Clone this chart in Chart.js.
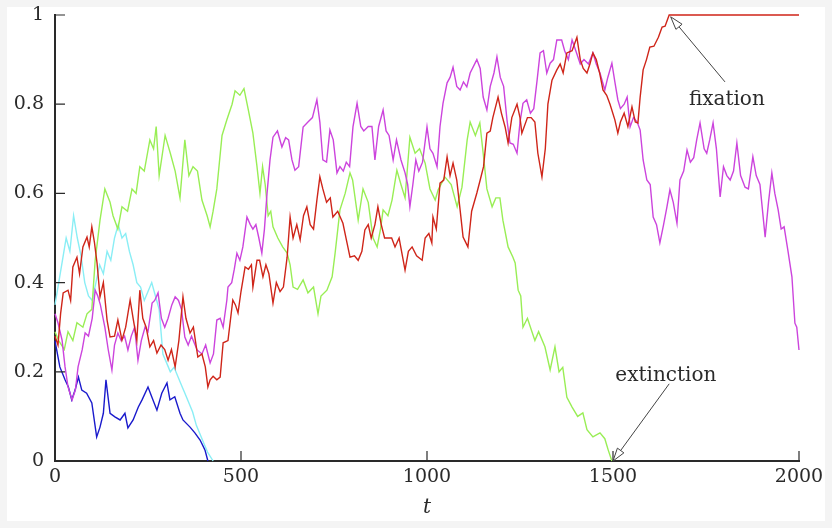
<!DOCTYPE html>
<html>
<head>
<meta charset="utf-8">
<script src="https://cdn.jsdelivr.net/npm/chart.js@4"></script>
<style>
  html, body { margin: 0; padding: 0; background: #f4f4f4; }
  canvas { display: block; }
</style>
</head>
<body>
<canvas id="chart" width="832" height="528"></canvas>
<script>
// tick labels
const xTicks = [0, 500, 1000, 1500, 2000];
const yTicks = [0, 0.2, 0.4, 0.6, 0.8, 1];

// allele frequency paths, [t, frequency]
const blue = [[0,0.27],[3,0.256],[13,0.211],[27,0.182],[36,0.166],[45,0.137],[54,0.159],[63,0.188],[72,0.159],[85,0.152],
  [99,0.13],[112,0.054],[121,0.076],[130,0.107],[137,0.182],[148,0.107],[161,0.099],[175,0.092],[188,0.107],[196,0.074],
  [210,0.092],[224,0.121],[234,0.137],[250,0.166],[260,0.144],[274,0.114],[287,0.152],[301,0.175],[309,0.137],[322,0.144],
  [336,0.107],[344,0.092],[363,0.076],[376,0.063],[390,0.047],[403,0.025],[411,0]];

const cyan = [[0,0.35],[10,0.40],[20,0.45],[30,0.50],[40,0.47],[50,0.55],[60,0.50],[70,0.46],[80,0.40],[90,0.37],
  [100,0.36],[110,0.40],[120,0.44],[130,0.42],[140,0.47],[150,0.45],[160,0.50],[170,0.53],[180,0.50],[190,0.51],
  [200,0.47],[210,0.44],[220,0.40],[230,0.39],[240,0.36],[250,0.38],[260,0.40],[270,0.37],[280,0.34],[290,0.24],
  [300,0.22],[310,0.20],[320,0.21],[330,0.19],[340,0.17],[350,0.15],[360,0.13],[370,0.11],[380,0.08],[390,0.06],
  [400,0.04],[410,0.02],[425,0]];

const green = [[0,0.29],[10,0.27],[25,0.25],[35,0.29],[48,0.27],[59,0.31],[75,0.30],[86,0.33],[99,0.34],[108,0.45],
  [121,0.54],[134,0.61],[148,0.58],[156,0.55],[169,0.52],[180,0.57],[195,0.56],[207,0.61],[218,0.60],[228,0.66],
  [240,0.65],[255,0.72],[265,0.70],[272,0.75],[280,0.64],[296,0.73],[310,0.69],[323,0.65],[336,0.59],[349,0.72],
  [360,0.64],[371,0.66],[383,0.65],[395,0.585],[409,0.55],[417,0.525],[425,0.56],[435,0.61],[449,0.73],[462,0.765],
  [476,0.80],[484,0.83],[497,0.82],[508,0.835],[519,0.79],[532,0.735],[543,0.66],[551,0.60],[558,0.66],[565,0.62],
  [573,0.55],[580,0.56],[586,0.525],[599,0.50],[612,0.48],[624,0.466],[632,0.44],[640,0.39],[652,0.385],[667,0.406],
  [680,0.377],[695,0.39],[707,0.33],[715,0.37],[731,0.383],[745,0.413],[753,0.466],[766,0.563],[780,0.60],[793,0.646],
  [800,0.63],[815,0.54],[828,0.61],[842,0.58],[855,0.50],[866,0.48],[875,0.52],[882,0.563],[895,0.55],[906,0.585],
  [919,0.652],[930,0.62],[941,0.59],[954,0.726],[968,0.69],[980,0.70],[995,0.668],[1008,0.61],[1022,0.585],[1030,0.608],
  [1048,0.637],[1065,0.62],[1081,0.57],[1094,0.614],[1108,0.72],[1116,0.76],[1130,0.73],[1142,0.758],[1151,0.69],[1161,0.61],
  [1175,0.57],[1185,0.59],[1196,0.59],[1204,0.54],[1218,0.48],[1231,0.457],[1237,0.444],[1245,0.383],[1252,0.37],[1258,0.30],
  [1270,0.32],[1290,0.27],[1300,0.29],[1317,0.256],[1331,0.204],[1344,0.256],[1355,0.20],[1365,0.21],[1376,0.143],[1390,0.121],
  [1405,0.10],[1419,0.108],[1430,0.07],[1446,0.054],[1465,0.063],[1478,0.05],[1487,0.025],[1497,0]];

const red = [[0,0.28],[8,0.26],[15,0.33],[22,0.377],[35,0.383],[42,0.36],[48,0.435],[59,0.457],[66,0.42],[75,0.48],
  [86,0.502],[92,0.48],[99,0.525],[106,0.49],[113,0.444],[121,0.368],[130,0.40],[140,0.316],[148,0.278],[160,0.28],
  [169,0.316],[180,0.271],[190,0.30],[202,0.361],[210,0.32],[220,0.271],[228,0.383],[236,0.32],[245,0.30],[255,0.256],
  [265,0.27],[274,0.242],[285,0.26],[295,0.25],[304,0.226],[313,0.25],[323,0.211],[333,0.27],[344,0.368],[352,0.32],
  [363,0.287],[372,0.30],[384,0.233],[395,0.24],[404,0.211],[411,0.166],[417,0.182],[425,0.19],[435,0.182],[444,0.188],
  [452,0.265],[465,0.27],[478,0.361],[485,0.35],[492,0.332],[500,0.38],[511,0.435],[520,0.43],[528,0.44],[532,0.39],
  [543,0.45],[550,0.45],[559,0.413],[567,0.44],[575,0.42],[586,0.354],[595,0.40],[605,0.38],[614,0.39],[624,0.457],
  [632,0.547],[640,0.50],[650,0.53],[659,0.496],[668,0.55],[677,0.57],[686,0.53],[695,0.52],[704,0.585],[712,0.637],
  [720,0.61],[730,0.58],[740,0.59],[747,0.547],[760,0.56],[774,0.533],[785,0.489],[793,0.457],[805,0.46],[815,0.45],
  [825,0.47],[833,0.518],[842,0.53],[850,0.50],[860,0.53],[868,0.57],[877,0.53],[886,0.50],[895,0.50],[905,0.50],
  [914,0.48],[925,0.50],[941,0.428],[950,0.47],[960,0.48],[972,0.46],[987,0.45],[995,0.50],[1005,0.51],[1013,0.489],
  [1016,0.547],[1025,0.52],[1035,0.623],[1045,0.63],[1054,0.682],[1062,0.64],[1070,0.668],[1080,0.63],[1089,0.563],[1097,0.502],
  [1110,0.48],[1120,0.56],[1134,0.601],[1143,0.63],[1152,0.66],[1161,0.735],[1170,0.74],[1177,0.77],[1191,0.816],[1200,0.78],
  [1210,0.749],[1218,0.713],[1228,0.77],[1242,0.80],[1250,0.77],[1255,0.735],[1270,0.77],[1280,0.77],[1290,0.76],[1298,0.69],
  [1309,0.637],[1318,0.70],[1325,0.80],[1336,0.854],[1349,0.877],[1358,0.89],[1366,0.87],[1376,0.915],[1390,0.92],[1403,0.95],
  [1412,0.90],[1420,0.88],[1430,0.87],[1438,0.89],[1446,0.915],[1455,0.90],[1464,0.87],[1473,0.832],[1483,0.82],[1492,0.80],
  [1505,0.765],[1513,0.735],[1520,0.76],[1530,0.78],[1540,0.75],[1551,0.794],[1560,0.76],[1567,0.758],[1573,0.816],[1581,0.877],
  [1590,0.90],[1599,0.928],[1610,0.93],[1622,0.95],[1632,0.973],[1640,0.975],[1651,1.0],[2000,1.0]];

const magenta = [[0,0.33],[8,0.31],[19,0.271],[27,0.211],[35,0.166],[46,0.137],[55,0.16],[62,0.211],[73,0.249],[81,0.287],
  [90,0.28],[100,0.32],[108,0.383],[115,0.37],[122,0.35],[134,0.30],[143,0.25],[153,0.204],[160,0.26],[169,0.287],
  [178,0.27],[187,0.28],[196,0.249],[205,0.28],[214,0.30],[223,0.226],[232,0.27],[242,0.30],[250,0.29],[261,0.354],
  [268,0.36],[277,0.377],[286,0.32],[295,0.30],[304,0.32],[314,0.35],[323,0.368],[332,0.36],[340,0.34],[349,0.278],
  [358,0.26],[367,0.28],[382,0.249],[395,0.24],[405,0.26],[417,0.22],[426,0.24],[435,0.316],[444,0.32],[452,0.30],
  [462,0.361],[465,0.39],[475,0.40],[482,0.43],[489,0.466],[497,0.45],[505,0.48],[516,0.547],[525,0.53],[532,0.52],
  [540,0.53],[548,0.50],[556,0.466],[563,0.52],[570,0.60],[578,0.675],[586,0.726],[598,0.74],[610,0.704],[620,0.725],
  [628,0.72],[637,0.675],[645,0.652],[655,0.66],[667,0.749],[680,0.76],[692,0.77],[704,0.81],[712,0.76],[720,0.675],
  [730,0.67],[739,0.742],[748,0.72],[758,0.646],[766,0.66],[775,0.65],[783,0.67],[792,0.66],[801,0.749],[812,0.802],
  [822,0.75],[830,0.74],[842,0.75],[852,0.75],[860,0.675],[870,0.75],[882,0.787],[890,0.74],[898,0.73],[909,0.675],
  [918,0.72],[930,0.675],[941,0.646],[948,0.62],[954,0.57],[962,0.62],[970,0.675],[978,0.65],[988,0.67],[1000,0.749],
  [1008,0.70],[1016,0.69],[1027,0.66],[1035,0.75],[1043,0.802],[1054,0.848],[1062,0.86],[1070,0.883],[1080,0.84],[1089,0.832],
  [1098,0.85],[1107,0.839],[1116,0.87],[1134,0.90],[1143,0.88],[1151,0.816],[1161,0.787],[1170,0.84],[1180,0.87],[1188,0.906],
  [1197,0.86],[1206,0.84],[1215,0.765],[1223,0.713],[1232,0.71],[1242,0.69],[1250,0.76],[1258,0.802],[1268,0.81],[1278,0.78],
  [1287,0.79],[1296,0.854],[1304,0.915],[1313,0.92],[1322,0.87],[1331,0.892],[1340,0.90],[1349,0.944],[1362,0.944],[1370,0.92],
  [1380,0.90],[1390,0.944],[1400,0.92],[1412,0.89],[1422,0.90],[1434,0.89],[1446,0.915],[1455,0.89],[1465,0.87],[1478,0.832],
  [1486,0.86],[1497,0.892],[1505,0.85],[1513,0.81],[1520,0.79],[1530,0.80],[1538,0.816],[1546,0.749],[1555,0.77],[1565,0.76],
  [1573,0.742],[1581,0.675],[1591,0.63],[1600,0.62],[1608,0.547],[1617,0.53],[1626,0.489],[1636,0.53],[1645,0.57],[1653,0.608],
  [1662,0.58],[1672,0.533],[1680,0.63],[1690,0.65],[1699,0.697],[1708,0.67],[1717,0.68],[1725,0.72],[1734,0.758],[1745,0.70],
  [1752,0.69],[1760,0.72],[1769,0.758],[1778,0.70],[1788,0.592],[1797,0.66],[1806,0.64],[1815,0.63],[1824,0.65],[1833,0.713],
  [1843,0.64],[1855,0.614],[1864,0.61],[1876,0.682],[1885,0.64],[1895,0.62],[1909,0.502],[1918,0.58],[1927,0.646],[1935,0.60],
  [1944,0.563],[1952,0.52],[1960,0.525],[1970,0.473],[1981,0.413],[1989,0.309],[1994,0.30],[2000,0.249]];

const FONT = 'DejaVu Serif';
const INK = '#2a2a2a';

const toPoints = (arr) => arr.map(p => ({ x: p[0], y: p[1] }));
const line = (arr, color) => ({
  data: toPoints(arr),
  borderColor: color,
  borderWidth: 1.4,
  pointRadius: 0,
  tension: 0,
  fill: false,
  clip: 4,
});

function arrow(ctx, x0, y0, x1, y1) {
  const a = Math.atan2(y1 - y0, x1 - x0);
  const len = 13, w = 4;
  const bx = x1 - len * Math.cos(a), by = y1 - len * Math.sin(a);
  ctx.beginPath();
  ctx.moveTo(x0, y0);
  ctx.lineTo(bx, by);
  ctx.stroke();
  ctx.beginPath();
  ctx.moveTo(x1, y1);
  ctx.lineTo(bx + w * Math.sin(a), by - w * Math.cos(a));
  ctx.lineTo(bx - w * Math.sin(a), by + w * Math.cos(a));
  ctx.closePath();
  ctx.fillStyle = '#fff';
  ctx.fill();
  ctx.stroke();
}

const frame = {
  id: 'frame',
  beforeDraw(chart) {
    const c = chart.ctx;
    c.save();
    c.fillStyle = '#f4f4f4';
    c.fillRect(0, 0, chart.width, chart.height);
    c.fillStyle = '#ffffff';
    c.fillRect(7, 7, chart.width - 14, chart.height - 14);
    c.restore();
  }
};

const extras = {
  id: 'extras',
  afterDatasetsDraw(chart) {
    const c = chart.ctx;
    const xs = chart.scales.x, ys = chart.scales.y;
    c.save();
    // inward tick marks
    c.strokeStyle = INK;
    c.lineWidth = 1.2;
    c.beginPath();
    yTicks.slice(1).forEach(v => {
      const py = ys.getPixelForValue(v);
      c.moveTo(xs.left, py);
      c.lineTo(xs.left + 10, py);
    });
    xTicks.slice(1).forEach(v => {
      const px = xs.getPixelForValue(v);
      c.moveTo(px, ys.bottom);
      c.lineTo(px, ys.bottom - 10);
    });
    c.stroke();

    // annotations
    c.font = '20px "' + FONT + '"';
    c.fillStyle = INK;
    c.textAlign = 'center';
    c.textBaseline = 'middle';
    c.fillText('fixation', xs.getPixelForValue(1806), ys.getPixelForValue(0.81));
    c.fillText('extinction', xs.getPixelForValue(1642), ys.getPixelForValue(0.19));
    c.strokeStyle = '#444';
    c.lineWidth = 1;
    arrow(c, xs.getPixelForValue(1801), ys.getPixelForValue(0.85),
             xs.getPixelForValue(1655), ys.getPixelForValue(0.996));
    arrow(c, xs.getPixelForValue(1651), ys.getPixelForValue(0.173),
             xs.getPixelForValue(1500), ys.getPixelForValue(0));
    c.restore();
  }
};

const ctx = document.querySelector('#chart').getContext('2d');
const chart = new Chart(ctx, {
  type: 'line',
  data: {
    datasets: [
      line(red, '#cf2519'),
      line(magenta, '#cc44dd'),
      line(green, '#99ee55'),
      line(cyan, '#8aeef5'),
      line(blue, '#1a1acc'),
    ]
  },
  options: {
    responsive: false,
    animation: false,
    layout: { padding: { top: 15, right: 33, left: 0, bottom: 0 } },
    plugins: {
      legend: { display: false },
      tooltip: { enabled: false },
    },
    scales: {
      x: {
        type: 'linear',
        min: 0,
        max: 2000,
        afterBuildTicks: (scale) => { scale.ticks = xTicks.map(v => ({ value: v })); },
        afterFit: (scale) => { scale.height = 67; scale.paddingLeft = 0; scale.paddingRight = 0; },
        grid: { display: false, drawTicks: false },
        border: { display: true, color: INK, width: 2 },
        ticks: {
          padding: 5,
          maxRotation: 0,
          color: INK,
          font: { family: FONT, size: 19 },
          callback: (v) => String(v),
        },
        title: {
          display: true,
          text: 't',
          color: INK,
          font: { family: FONT, size: 20, style: 'italic' },
          padding: { top: 0, bottom: 8 },
        }
      },
      y: {
        min: 0,
        max: 1,
        afterBuildTicks: (scale) => { scale.ticks = yTicks.map(v => ({ value: v })); },
        afterFit: (scale) => { scale.width = 55; scale.paddingTop = 0; scale.paddingBottom = 0; },
        grid: { display: false, drawTicks: false },
        border: { display: true, color: INK, width: 2 },
        ticks: {
          padding: 11,
          color: INK,
          font: { family: FONT, size: 19 },
          callback: (v) => String(v),
        }
      }
    }
  },
  plugins: [frame, extras]
});
</script>
</body>
</html>
